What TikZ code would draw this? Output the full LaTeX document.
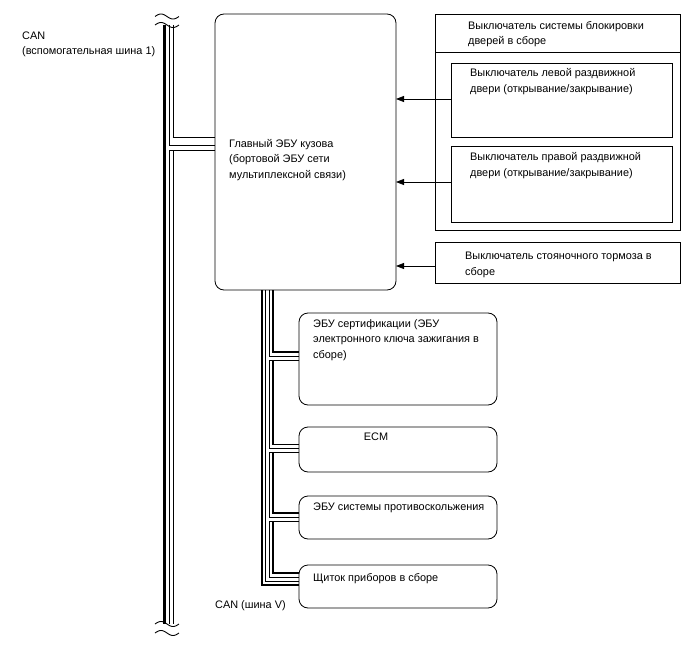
\documentclass[tikz,border=0pt]{standalone}
\usepackage{fontspec}
\setmainfont{Liberation Sans}
\usetikzlibrary{arrows.meta}
\begin{document}
\begin{tikzpicture}[x=1pt,y=-1pt,
  box/.style={draw,line width=0.8pt,inner sep=0pt,outer sep=0pt,anchor=north west},
  rbox/.style={box,rounded corners=9pt},
  txt/.style={anchor=north west,inner sep=0pt,align=left,font=\fontsize{10.9}{15.5}\selectfont},
  sig/.style={line width=0.8pt,-{Triangle[length=8pt,width=6pt]}},
  wthin/.style={line width=1pt},
  wl4/.style={line width=1.4pt},
  wmid/.style={line width=1.8pt},
  wthick/.style={line width=2.8pt},
  cut/.style={line width=0.9pt}]
\useasboundingbox (0,0) rectangle (688,658);

% boxes
\node[rbox,minimum width=181pt,minimum height=276pt] (main) at (215,14) {};
\node[box,minimum width=245pt,minimum height=216pt] (lockasm) at (435,14) {};
\node[box,minimum width=245pt,minimum height=38pt] (lockhdr) at (435,14) {};
\node[box,minimum width=221pt,minimum height=74pt] (ldoor) at (451,63) {};
\node[box,minimum width=221pt,minimum height=76pt] (rdoor) at (451,146) {};
\node[box,minimum width=245pt,minimum height=41pt] (pbrake) at (435,242) {};
\node[rbox,minimum width=198pt,minimum height=92pt] (cert) at (299,313) {};
\node[rbox,minimum width=198pt,minimum height=45pt] (ecm) at (299,427) {};
\node[rbox,minimum width=198pt,minimum height=43pt] (skid) at (299,496) {};
\node[rbox,minimum width=198pt,minimum height=43pt] (meter) at (299,565) {};

% texts
\node[txt] (tcan) at (22,31.5) {CAN\\(вспомогательная шина 1)};
\node[txt] (tmain) at (229,139) {Главный ЭБУ кузова\\(бортовой ЭБУ сети\\мультиплексной связи)};
\node[txt] (thdr) at (468,21) {Выключатель системы блокировки\\дверей в сборе};
\node[txt] (tldoor) at (470,68.5) {Выключатель левой раздвижной\\двери (открывание/закрывание)};
\node[txt] (trdoor) at (470,152.5) {Выключатель правой раздвижной\\двери (открывание/закрывание)};
\node[txt] (tpb) at (465,252) {Выключатель стояночного тормоза в\\сборе};
\node[txt] (tcert) at (313,319) {ЭБУ сертификации (ЭБУ\\электронного ключа зажигания в\\сборе)};
\node[txt,anchor=north] (tecm) at (376,433) {ECM};
\node[txt] (tskid) at (313,503) {ЭБУ системы противоскольжения};
\node[txt] (tmeter) at (313,573) {Щиток приборов в сборе};
\node[txt] (tcanv) at (215,600) {CAN (шина V)};

% signal arrows
\draw[sig] (ldoor.west |- 0,99) -- (main.east |- 0,99);
\draw[sig] (rdoor.west |- 0,182) -- (main.east |- 0,182);
\draw[sig] (pbrake.west |- 0,266) -- (main.east |- 0,266);

% main CAN bus (sub bus 1)
\coordinate (m1t) at (164.5,25); \coordinate (m1b) at (164.5,624);
\coordinate (m2t) at (169,25);   \coordinate (m2b) at (169,624);
\coordinate (m3t) at (173,25);   \coordinate (m3b) at (173,624);
\coordinate (m3r) at (173,150.5);
\draw[wthick] (m1t) -- (m1b);
\draw[wthin] (m3t) -- (m3t |- 0,137.5);
\draw[wmid] (172.6,137.5) -- (main.west |- 0,137.5);
\draw[wthin] (m2t) |- (main.west |- 0,146);
\draw[wthin] (main.west |- 0,150.5) -| (m2b);
\draw[wthin] (m3r) -- (m3b);

% cut marks
\draw[cut] plot[domain=0:1,samples=30] ({155+24*\x},{16.5-2.5*sin(360*\x)});
\draw[cut] plot[domain=0:1,samples=30] ({155+24*\x},{25-2.5*sin(360*\x)});
\draw[cut] plot[domain=0:1,samples=30] ({155+24*\x},{624-2.5*sin(360*\x)});
\draw[cut] plot[domain=0:1,samples=30] ({155+24*\x},{633-2.5*sin(360*\x)});

% CAN bus V
\coordinate (v1) at (262,290);
\coordinate (v2) at (265.8,290);
\coordinate (v3) at (269.3,290);
\coordinate (v4) at (272.8,290);
\draw[wl4] (v4) |- (cert.west |- 0,352);
\draw[wthin] (v3) |- (cert.west |- 0,356);
\draw[wthin] (cert.west |- 0,360) -- (269.3,360) |- (ecm.west |- 0,448.5);
\draw[wl4] (272.8,360) |- (ecm.west |- 0,444.5);
\draw[wthin] (ecm.west |- 0,452.5) -- (269.3,452.5) |- (skid.west |- 0,517);
\draw[wl4] (272.8,452.5) |- (skid.west |- 0,513);
\draw[wthin] (skid.west |- 0,521) -- (269.3,521) |- (meter.west |- 0,577);
\draw[wl4] (272.8,521) |- (meter.west |- 0,573);
\draw[wthin] (v2) |- (meter.west |- 0,581);
\draw[wthick] (v1) |- (meter.west |- 0,585);
\end{tikzpicture}
\end{document}
